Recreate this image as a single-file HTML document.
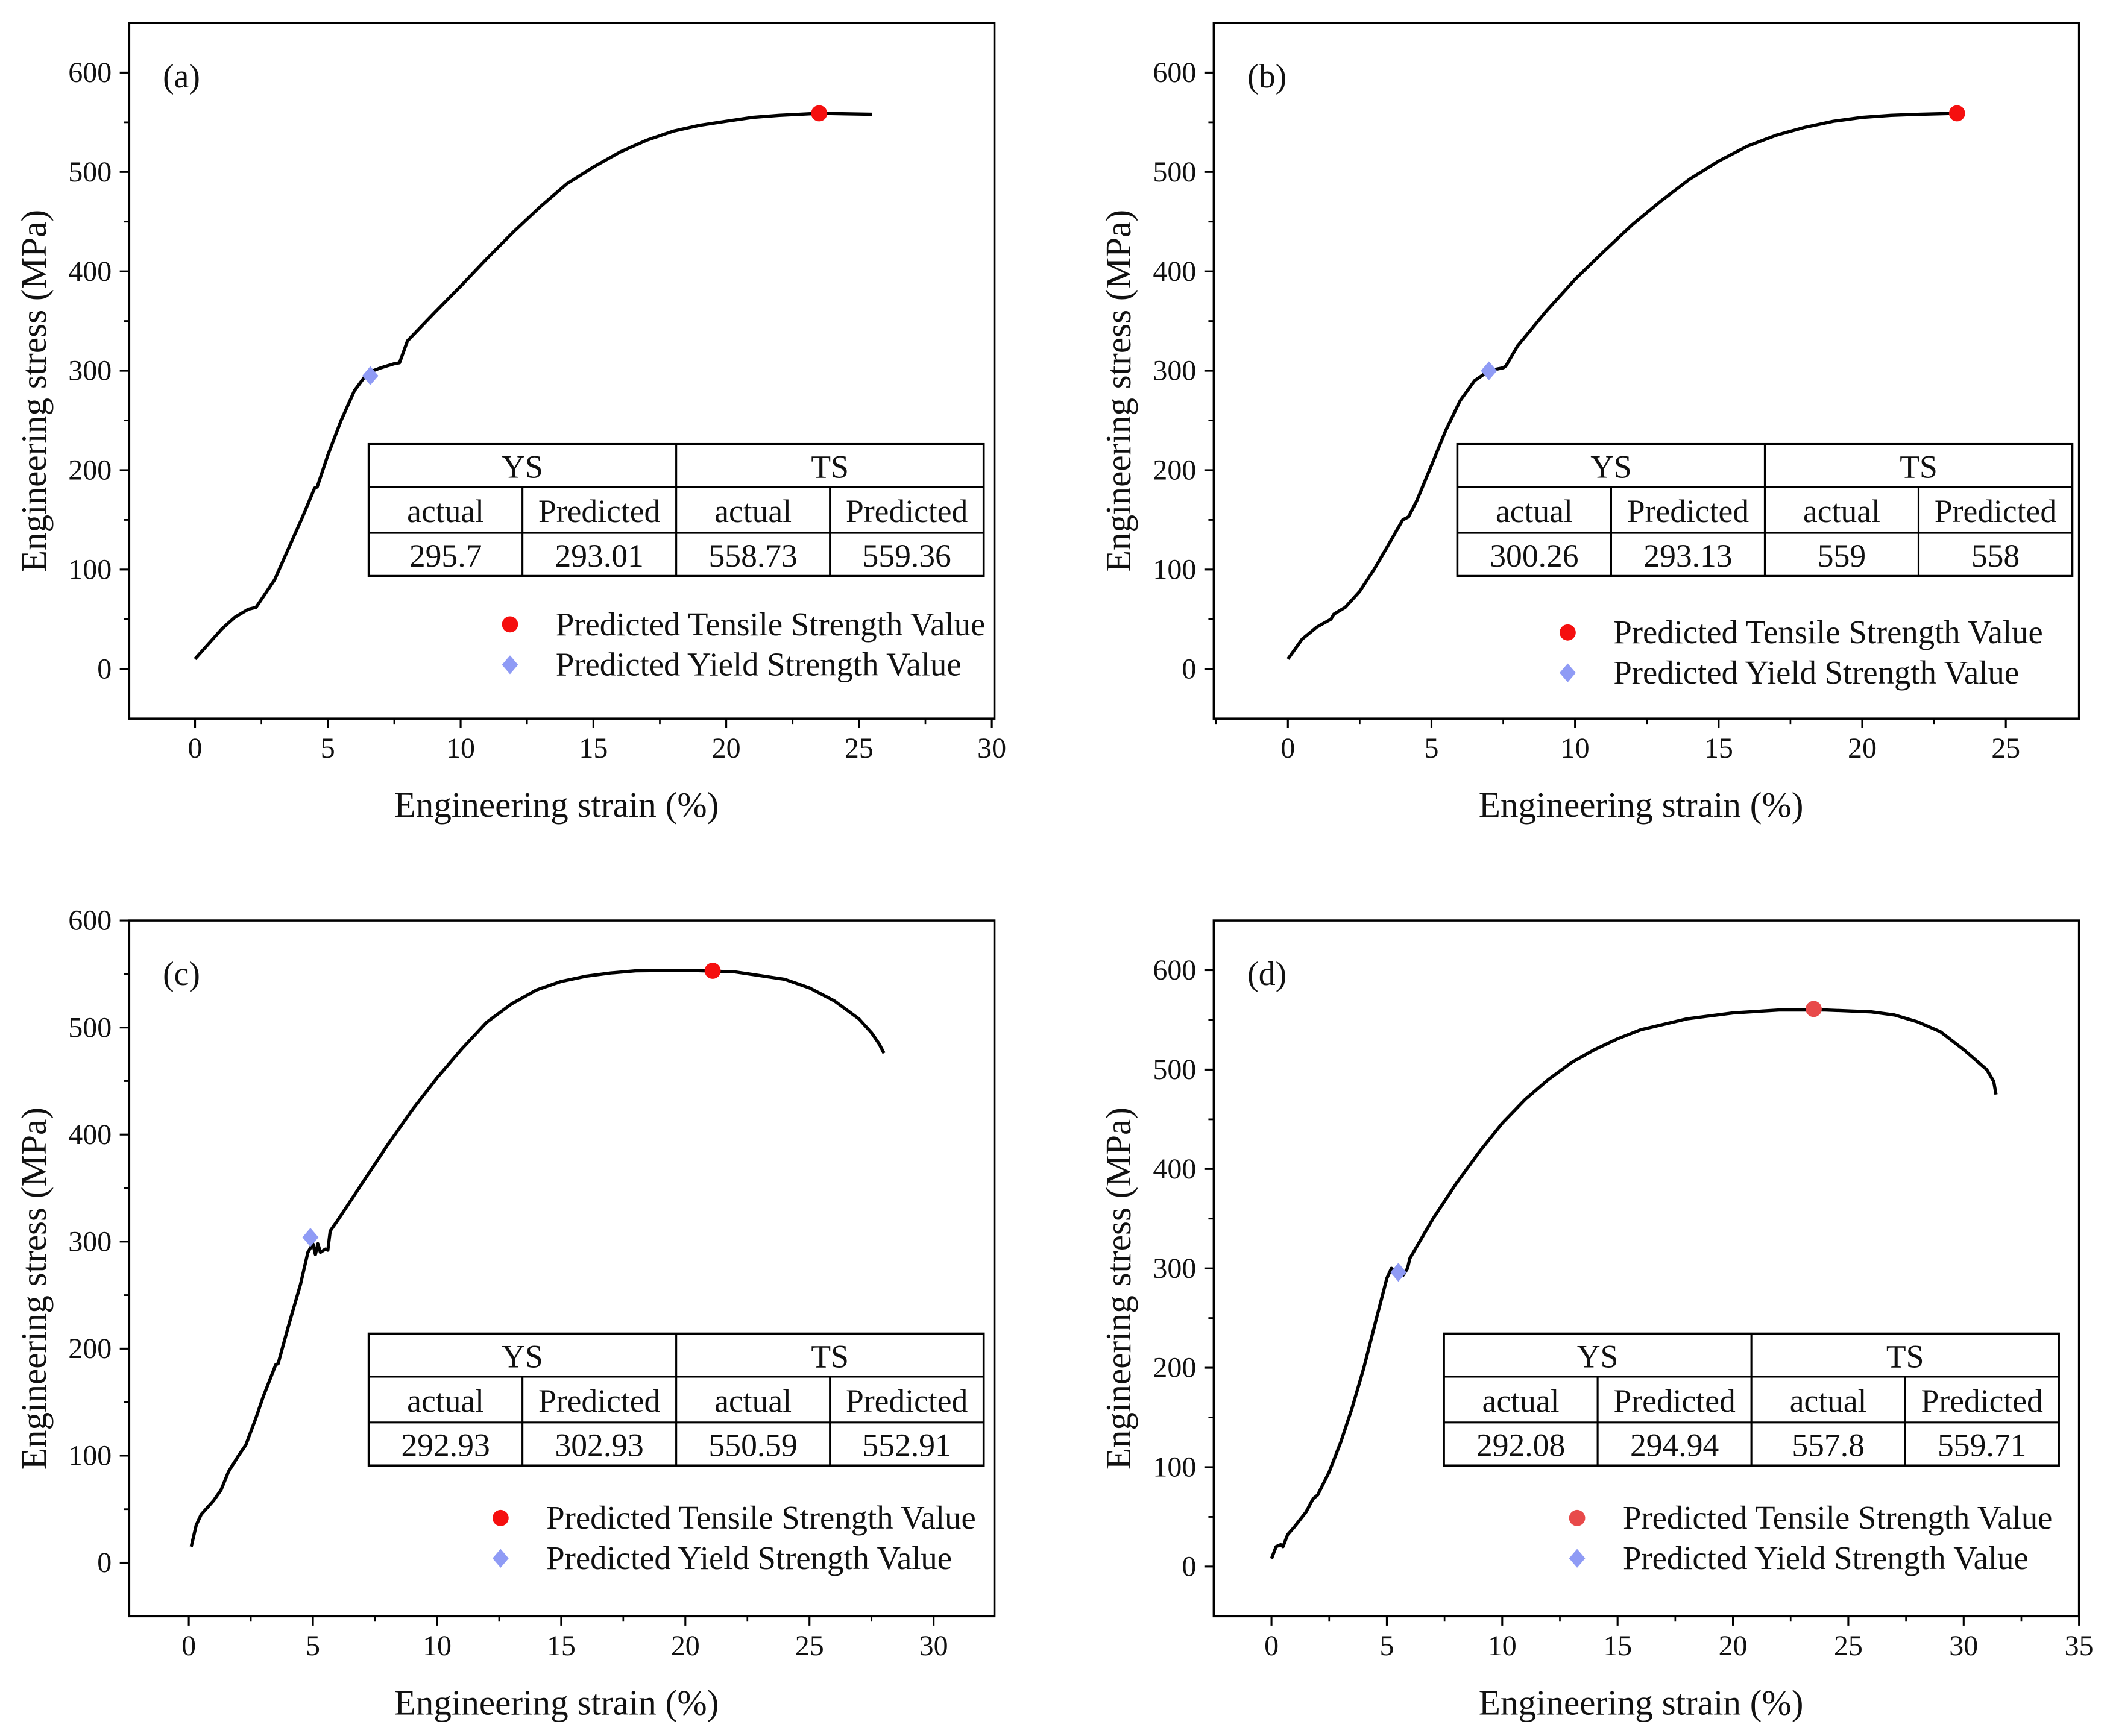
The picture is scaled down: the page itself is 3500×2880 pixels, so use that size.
<!DOCTYPE html>
<html><head><meta charset="utf-8">
<style>
html,body{margin:0;padding:0;background:#fff;}
svg{display:block;}
text{font-family:"Liberation Serif",serif;fill:#111;}
</style></head>
<body>
<svg id="fig" width="3500" height="2880" viewBox="0 0 1568 1290" preserveAspectRatio="none" xmlns="http://www.w3.org/2000/svg"></svg>
<script>
// ---- data ----
const strainA=[0,0.5,1,1.5,2,2.3,2.5,3,3.5,4,4.5,4.6,5,5.5,6,6.5,7,7.5,7.7,8,9,10,11,12,13,14,15,16,17,18,19,20,21,22,23.5,25.5];
const stressA=[10,25,40,52,60,62,70,90,120,150,182,183,215,250,280,298,303,307,308,330,358,385,413,440,465,488,505,520,532,541,547,551,555,557,559,558];
const strainB=[0,0.5,1,1.5,1.6,2,2.5,3,3.5,4,4.2,4.5,5,5.5,6,6.5,7,7.5,7.6,8,9,10,11,12,13,14,15,16,17,18,19,20,21,22,23.3];
const stressB=[10,30,42,50,55,62,78,100,125,150,153,170,205,240,270,290,300,303,305,325,360,392,420,447,471,493,511,526,537,545,551,555,557,558,559];
const strainC=[0.1,0.3,0.5,1,1.3,1.6,2,2.3,2.7,3,3.5,3.6,4,4.5,4.8,5,5.1,5.2,5.3,5.5,5.6,5.7,6,7,8,9,10,11,12,13,14,15,16,17,18,20,22,24,25,26,27,27.5,27.8,28];
const stressC=[15,35,45,58,68,85,100,110,135,155,185,186,220,260,290,298,288,298,290,293,292,310,320,355,390,423,453,480,505,522,535,543,548,551,553,553.5,552,545,537,525,508,495,485,476];
const strainD=[0,0.2,0.4,0.5,0.7,1,1.5,1.8,2,2.5,3,3.5,4,4.5,5,5.2,5.5,5.7,5.9,6,7,8,9,10,11,12,13,14,15,16,18,20,22,24,26,27,28,29,30,31,31.3,31.4];
const stressD=[8,20,22,20,32,40,55,68,72,95,125,160,200,245,290,300,295,293,300,310,350,385,417,446,470,490,507,520,531,540,551,557,560,560,558,555,548,538,520,500,488,475];
const xTicksA=[0,5,10,15,20,25,30];
const xTicksB=[0,5,10,15,20,25];
const xTicksC=[0,5,10,15,20,25,30];
const xTicksD=[0,5,10,15,20,25,30,35];
const yTicks=[0,100,200,300,400,500,600];
const tsA=[23.5,559], ysA=[6.6,295];
const tsB=[23.3,559], ysB=[7.0,300];
const tsC=[21.1,553], ysC=[4.9,304];
const tsD=[23.5,561], ysD=[5.5,296];
const tableA=["295.7","293.01","558.73","559.36"];
const tableB=["300.26","293.13","559","558"];
const tableC=["292.93","302.93","550.59","552.91"];
const tableD=["292.08","294.94","557.8","559.71"];

const NS="http://www.w3.org/2000/svg";
const svg=document.getElementById('fig');
function mk(tag,attrs,parent,txt){const e=document.createElementNS(NS,tag);for(const k in attrs)e.setAttribute(k,attrs[k]);if(txt!==undefined)e.textContent=txt;(parent||svg).appendChild(e);return e;}

function panel(o){
  const g=mk('g',{});
  
  
  const X=v=>o.bx0+(v-o.xmin)/(o.xmax-o.xmin)*(o.bx1-o.bx0);
  const Y=v=>o.by1-(v-o.ymin)/(o.ymax-o.ymin)*(o.by1-o.by0);
  const frame=mk('rect',{x:o.bx0,y:o.by0,width:o.bx1-o.bx0,height:o.by1-o.by0,fill:'none',stroke:'#000','stroke-width':1.6},g);
  
  
  o.xt.forEach((t,i)=>{
    const x=X(t);
    mk('line',{x1:x,x2:x,y1:o.by1,y2:o.by1+7,stroke:'#000','stroke-width':1.4},g);
    const lb=mk('text',{x:x,y:o.by1+29,'font-size':21.5,'text-anchor':'middle'},g,String(t));
    
    
    if(i<o.xt.length-1){const xm=X(t+2.5);if(xm<o.bx1)mk('line',{x1:xm,x2:xm,y1:o.by1,y2:o.by1+4,stroke:'#000','stroke-width':1.2},g);}
  });
  const xm0=X(o.xt[0]-2.5); if(xm0>o.bx0)mk('line',{x1:xm0,x2:xm0,y1:o.by1,y2:o.by1+4,stroke:'#000','stroke-width':1.2},g);
  yTicks.forEach((t,i)=>{
    const y=Y(t);
    mk('line',{x1:o.bx0-7,x2:o.bx0,y1:y,y2:y,stroke:'#000','stroke-width':1.4},g);
    const lb=mk('text',{x:o.bx0-13,y:y+7,'font-size':21.5,'text-anchor':'end'},g,String(t));
    
    
    [t-50,t+50].forEach(m=>{const ym=Y(m);if(ym>o.by0&&ym<o.by1&&(m%100!==0))mk('line',{x1:o.bx0-4,x2:o.bx0,y1:ym,y2:ym,stroke:'#000','stroke-width':1.2},g);});
  });
  const xt=mk('text',{x:(o.bx0+o.bx1)/2-4,y:o.by1+73,'font-size':26.5,'text-anchor':'middle'},g,'Engineering strain (%)');
  
  
  const cy=(o.by0+o.by1)/2+15;
  const yt=mk('text',{x:o.bx0-62,y:cy,'font-size':26.5,'text-anchor':'middle',transform:`rotate(-90 ${o.bx0-62} ${cy})`},g,'Engineering stress (MPa)');
  
  
  const pl=mk('text',{x:o.bx0+25,y:o.by0+48,'font-size':25},g,'('+o.id+')');
  
  
  const d=o.sx.map((s,i)=>(i?'L':'M')+X(s).toFixed(1)+','+Y(o.sy[i]).toFixed(1)).join(' ');
  const c=mk('path',{d:d,fill:'none',stroke:'#000','stroke-width':2.4,'stroke-linejoin':'round'},g);
  
  
  const ts=mk('circle',{cx:X(o.ts[0]),cy:Y(o.ts[1]),r:6,fill:o.tsCol},g);
  
  
  const yx=X(o.ys[0]),yy=Y(o.ys[1]);
  const ys=mk('polygon',{points:`${yx},${yy-7} ${yx+6},${yy} ${yx},${yy+7} ${yx-6},${yy}`,fill:'#8f9bf5'},g);
  
  
  const tg=mk('g',{},g);
  
  
  const tx=o.tx, ty=o.ty, w=(457)/4, rows=[ty,ty+32,ty+66,ty+98];
  mk('rect',{x:tx,y:ty,width:457,height:98,fill:'#fff',stroke:'#000','stroke-width':1.6},tg);
  mk('line',{x1:tx,x2:tx+457,y1:rows[1],y2:rows[1],stroke:'#000','stroke-width':1.4},tg);
  mk('line',{x1:tx,x2:tx+457,y1:rows[2],y2:rows[2],stroke:'#000','stroke-width':1.4},tg);
  mk('line',{x1:tx+2*w,x2:tx+2*w,y1:ty,y2:rows[3],stroke:'#000','stroke-width':1.4},tg);
  [1,3].forEach(k=>mk('line',{x1:tx+k*w,x2:tx+k*w,y1:rows[1],y2:rows[3],stroke:'#000','stroke-width':1.4},tg));
  mk('text',{x:tx+w,y:ty+25,'font-size':24,'text-anchor':'middle'},tg,'YS');
  mk('text',{x:tx+3*w,y:ty+25,'font-size':24,'text-anchor':'middle'},tg,'TS');
  ['actual','Predicted','actual','Predicted'].forEach((h,k)=>mk('text',{x:tx+(k+0.5)*w,y:rows[1]+26,'font-size':24,'text-anchor':'middle'},tg,h));
  o.tbl.forEach((v,k)=>mk('text',{x:tx+(k+0.5)*w,y:rows[2]+25,'font-size':24,'text-anchor':'middle'},tg,v));
  const lg=mk('g',{},g);
  
  
  mk('circle',{cx:o.lx,cy:o.ly,r:6,fill:o.tsCol},lg);
  mk('text',{x:o.lx+34,y:o.ly+8,'font-size':24.5},lg,'Predicted Tensile Strength Value');
  mk('polygon',{points:`${o.lx},${o.ly+23} ${o.lx+6},${o.ly+30} ${o.lx},${o.ly+37} ${o.lx-6},${o.ly+30}`,fill:'#8f9bf5'},lg);
  mk('text',{x:o.lx+34,y:o.ly+38,'font-size':24.5},lg,'Predicted Yield Strength Value');
}

panel({id:'a',bx0:96,bx1:739,by0:17,by1:534,xmin:-2.48,xmax:30.1,ymin:-50,ymax:650,xt:xTicksA,sx:strainA,sy:stressA,ts:tsA,ys:ysA,tsCol:'#f50f0f',tbl:tableA,tx:274,ty:330,lx:379,ly:464});
panel({id:'b',bx0:902,bx1:1545,by0:17,by1:534,xmin:-2.58,xmax:27.55,ymin:-50,ymax:650,xt:xTicksB,sx:strainB,sy:stressB,ts:tsB,ys:ysB,tsCol:'#f50f0f',tbl:tableB,tx:1083,ty:330,lx:1165,ly:470});
panel({id:'c',bx0:96,bx1:739,by0:684,by1:1201,xmin:-2.4,xmax:32.45,ymin:-50,ymax:600,xt:xTicksC,sx:strainC,sy:stressC,ts:tsC,ys:ysC,tsCol:'#f50f0f',tbl:tableC,tx:274,ty:991,lx:372,ly:1128});
panel({id:'d',bx0:902,bx1:1545,by0:684,by1:1201,xmin:-2.5,xmax:35,ymin:-50,ymax:650,xt:xTicksD,sx:strainD,sy:stressD,ts:tsD,ys:ysD,tsCol:'#e84a4a',tbl:tableD,tx:1073,ty:991,lx:1172,ly:1128});
</script>
</body></html>
